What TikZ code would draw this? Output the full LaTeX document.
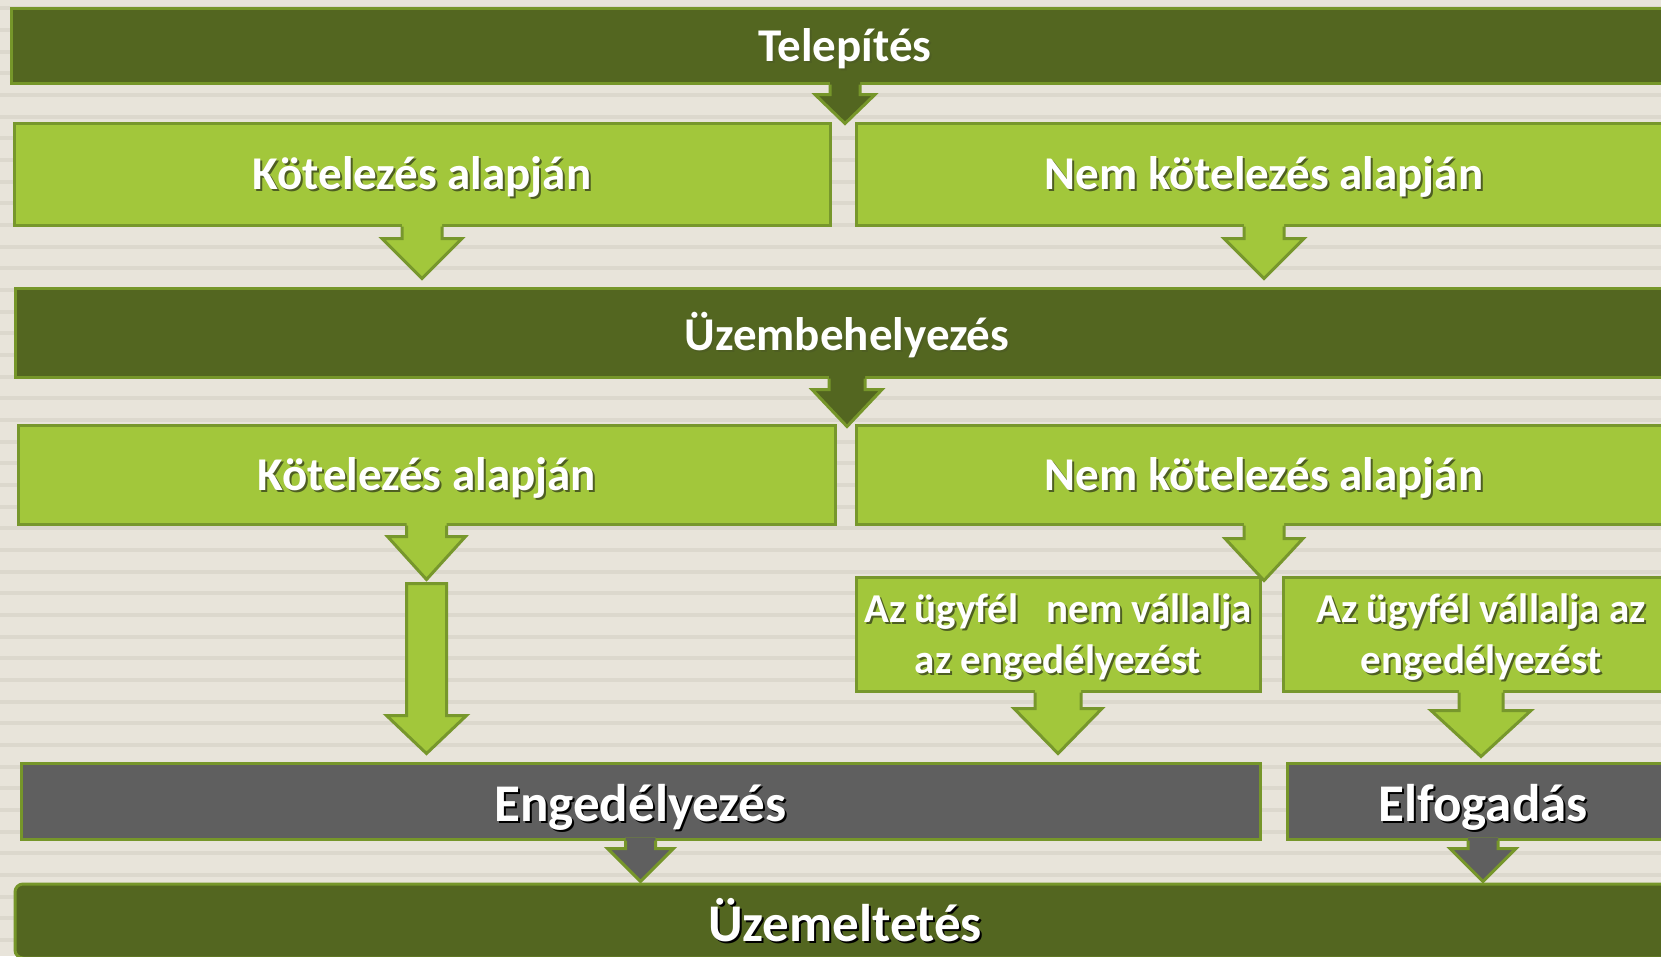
\documentclass[tikz,border=0pt]{standalone}
\usepackage{fontspec}
\setmainfont{Carlito}
\usepackage{tikz}
\usetikzlibrary{calc,positioning}
\definecolor{darkgreen}{HTML}{536620}
\definecolor{darkline}{HTML}{76962A}
\definecolor{lightgreen}{HTML}{A2C73B}
\definecolor{lightline}{HTML}{77972C}
\definecolor{greybox}{HTML}{5F5F5F}
\definecolor{paper}{HTML}{E8E4DA}
\definecolor{stripe}{HTML}{DCD8CD}
\definecolor{shade}{HTML}{4E5E22}

% white text with a small drop shadow, lowered by \shdrop
\newlength{\shdrop}
\setlength{\shdrop}{4pt}
\newcommand{\shd}[2][shade]{\raisebox{-\shdrop}[\height][\depth]{\makebox[0pt][l]{\hspace{2pt}\raisebox{-2pt}{\textcolor{#1}{#2}}}#2}}

% block arrow: fill, line, from, to, half shaft, half head, head length
\newcommand{\blockarrow}[7]{%
  \fill[#1] let \p1=(#3), \p2=(#4) in (\x1-#5pt,\y1+3pt) -- (\x1-#5pt,\y2+#7pt) -- (\x1-#6pt,\y2+#7pt) -- (\x1,\y2)
    -- (\x1+#6pt,\y2+#7pt) -- (\x1+#5pt,\y2+#7pt) -- (\x1+#5pt,\y1+3pt) -- cycle;
  \draw[#2,line width=3pt] let \p1=(#3), \p2=(#4) in (\x1-#5pt,\y1) -- (\x1-#5pt,\y2+#7pt) -- (\x1-#6pt,\y2+#7pt) -- (\x1,\y2)
    -- (\x1+#6pt,\y2+#7pt) -- (\x1+#5pt,\y2+#7pt) -- (\x1+#5pt,\y1);
}

\begin{document}
\begin{tikzpicture}[x=1pt,y=-1pt,% pixel grid, y pointing down
					every node/.style={
						align=center,		% "\\" breaks the line
						text=white,
						line width=3pt
						},
					darkbox/.style={rectangle,draw=darkline,fill=darkgreen,font=\fontsize{47}{56}\selectfont\bfseries},
					lightbox/.style={rectangle,draw=lightline,fill=lightgreen,font=\fontsize{47}{56}\selectfont\bfseries},
					smallbox/.style={rectangle,draw=lightline,fill=lightgreen,font=\fontsize{41}{51}\selectfont\bfseries},
					greybox/.style={rectangle,draw=darkline,fill=greybox,font=\fontsize{53}{60}\selectfont\bfseries\setlength{\shdrop}{7pt}}
					]
\useasboundingbox (0,0) rectangle (1661,956);
\clip (0,0) rectangle (1661,956);
% striped background
\fill[paper] (0,0) rectangle (1661,956);
\foreach \sy in {8.3,29.97,...,956}
	\draw[stripe,line width=4pt] (0,\sy) -- (1661,\sy);

\node[darkbox,minimum width=1668pt,minimum height=75pt](R1) at (845,45.5){\shd{Telepítés}};
\node[lightbox,minimum width=816pt,minimum height=102pt](R2) at (422,174){\shd{Kötelezés alapján}};
\node[lightbox,minimum width=816pt,minimum height=102pt](R3) at (1264,174){\shd{Nem kötelezés alapján}};
\node[darkbox,minimum width=1664pt,minimum height=89pt](R4) at (847,332.5){\shd{Üzembehelyezés}};
\node[lightbox,minimum width=817pt,minimum height=99pt](R5) at (426.5,474.5){\shd{Kötelezés alapján}};
\node[lightbox,minimum width=816pt,minimum height=99pt](R6) at (1264,474.5){\shd{Nem kötelezés alapján}};
\node[smallbox,minimum width=404pt,minimum height=114pt](R7) at (1058,634){\shd{Az ügyfél\ \ \ nem vállalja}\\ \shd{az engedélyezést}};
\node[smallbox,minimum width=396pt,minimum height=114pt](R8) at (1481,634){\shd{Az ügyfél vállalja az}\\ \shd{engedélyezést}};
\node[greybox,minimum width=1239pt,minimum height=76pt](R9) at (640.5,801){\shd[black]{Engedélyezés}};
\node[greybox,minimum width=392pt,minimum height=76pt](R10) at (1483,801){\shd[black]{Elfogadás}};
\node[darkbox,rounded corners=8pt,font=\fontsize{53}{60}\selectfont\bfseries\setlength{\shdrop}{0pt},minimum width=1660pt,minimum height=74pt](R11) at (845,921){\shd[black]{Üzemeltetés}};

\coordinate (L1) at ($(R5.south)+(0,58)$);
\coordinate (L2) at ($(R9.north -| R5.south)+(0,-8)$);

\blockarrow{darkgreen}{darkline}{R1.south}{$(R1.south)+(0,39)$}{15}{30}{29}
\blockarrow{lightgreen}{lightline}{R2.south}{$(R2.south)+(0,52)$}{20}{40}{40}
\blockarrow{lightgreen}{lightline}{R3.south}{$(R3.south)+(0,52)$}{20}{40}{40}
\blockarrow{darkgreen}{darkline}{R4.south}{$(R4.south)+(0,48)$}{18}{35}{37}
\blockarrow{lightgreen}{lightline}{R5.south}{$(R5.south)+(0,54)$}{20}{39}{43}
\blockarrow{lightgreen}{lightline}{R6.south}{$(R6.south)+(0,55)$}{20}{39}{42}
\blockarrow{lightgreen}{lightline}{R7.south}{$(R7.south)+(0,61)$}{23}{44}{45}
\blockarrow{lightgreen}{lightline}{R8.south}{$(R8.south)+(0,64)$}{22}{50}{46}
\blockarrow{greybox}{darkline}{R9.south}{$(R9.south)+(0,41)$}{15}{33}{33}
\blockarrow{greybox}{darkline}{R10.south}{$(R10.south)+(0,41)$}{15}{33}{33}
% long arrow down to Engedelyezes
\draw[fill=lightgreen,draw=lightline,line width=3pt] let \p1=(L1), \p2=(L2) in
	(\x1-20pt,\y1) -- (\x1-20pt,\y2+38pt) -- (\x1-40pt,\y2+38pt) -- (\x1,\y2)
	-- (\x1+40pt,\y2+38pt) -- (\x1+20pt,\y2+38pt) -- (\x1+20pt,\y1) -- cycle;
\end{tikzpicture}
\end{document}
